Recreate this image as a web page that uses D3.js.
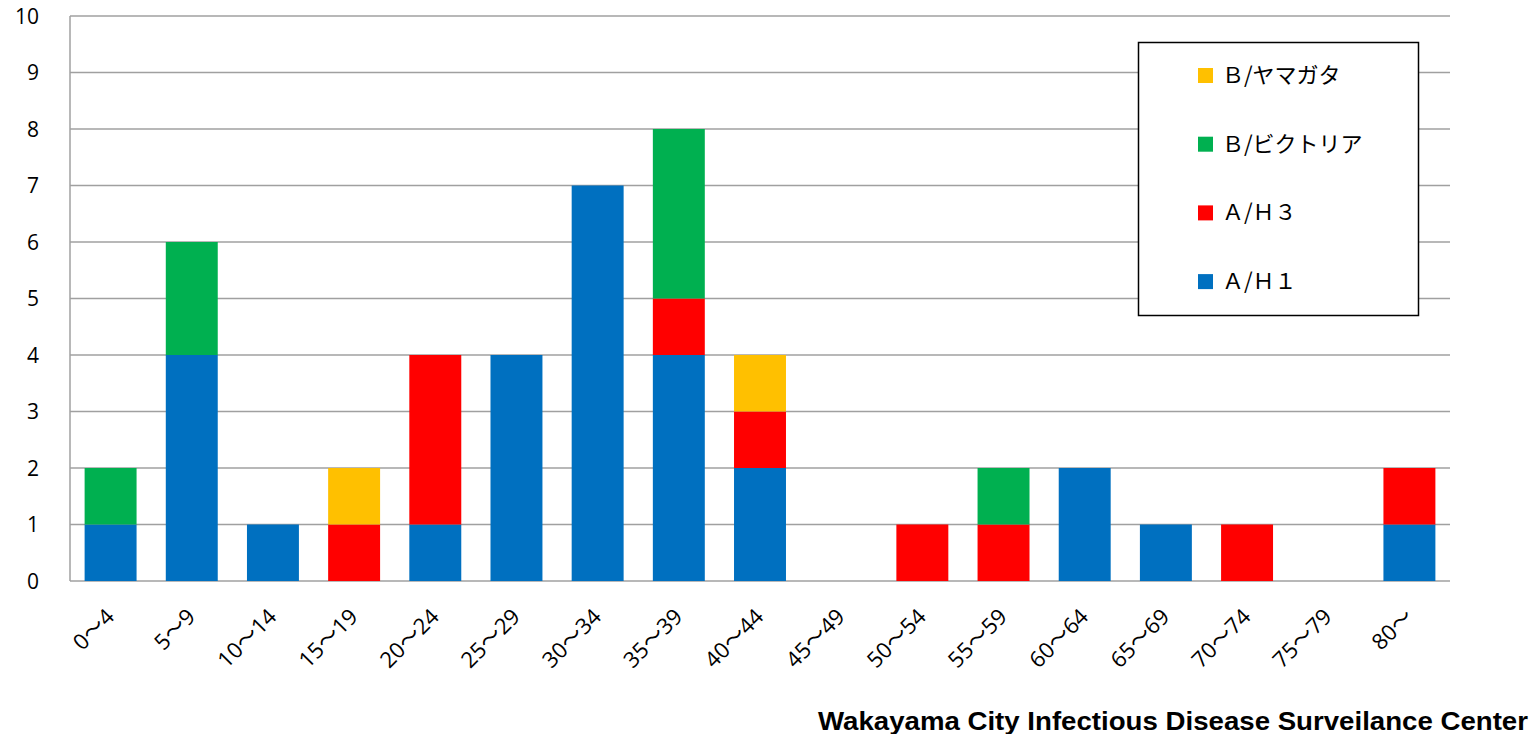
<!DOCTYPE html>
<html lang="ja">
<head>
<meta charset="utf-8" />
<title>Influenza by age group</title>
<script src="https://d3js.org/d3.v7.min.js"></script>
<style>
  body { margin: 0; background: #fff; }
</style>
</head>
<body>
<script>
const ageGroups = ["0〜4", "5〜9", "10〜14", "15〜19", "20〜24", "25〜29", "30〜34", "35〜39", "40〜44",
  "45〜49", "50〜54", "55〜59", "60〜64", "65〜69", "70〜74", "75〜79", "80〜"];
const seriesNames = ["A/H1", "A/H3", "B/Victoria", "B/Yamagata"];
const seriesLabels = ["Ａ/Ｈ１", "Ａ/Ｈ３", "Ｂ/ビクトリア", "Ｂ/ヤマガタ"];
const seriesColors = ["#0070C0", "#FF0000", "#00B050", "#FFC000"];
const ah1 = [1, 4, 1, 0, 1, 4, 7, 4, 2, 0, 0, 0, 2, 1, 0, 0, 1];
const ah3 = [0, 0, 0, 1, 3, 0, 0, 1, 1, 0, 1, 1, 0, 0, 1, 0, 1];
const bVic = [1, 2, 0, 0, 0, 0, 0, 3, 0, 0, 0, 1, 0, 0, 0, 0, 0];
const bYam = [0, 0, 0, 1, 0, 0, 0, 0, 1, 0, 0, 0, 0, 0, 0, 0, 0];
const yTicks = [0, 1, 2, 3, 4, 5, 6, 7, 8, 9, 10];

const width = 1532, height = 734;
const margin = {top: 16, right: 82, bottom: 153, left: 70};

const rows = ageGroups.map((g, i) => ({group: g, "A/H1": ah1[i], "A/H3": ah3[i], "B/Victoria": bVic[i], "B/Yamagata": bYam[i]}));
const stacked = d3.stack().keys(seriesNames)(rows);

const x = d3.scaleBand()
    .domain(ageGroups)
    .range([margin.left, width - margin.right])
    .paddingInner(0.36)
    .paddingOuter(0.18);

const y = d3.scaleLinear()
    .domain([0, 10])
    .range([height - margin.bottom, margin.top]);

const svg = d3.select("body").append("svg")
    .attr("width", width)
    .attr("height", height)
    .attr("font-family", "'Liberation Sans', Arial, sans-serif");

const labelFont = "'Open Sans', sans-serif";

// grid
svg.append("g")
    .attr("stroke", "#a0a0a0")
    .attr("stroke-width", 1.5)
  .selectAll("line")
  .data(yTicks)
  .join("line")
    .attr("x1", margin.left)
    .attr("x2", width - margin.right)
    .attr("y1", d => y(d))
    .attr("y2", d => y(d));

svg.append("line")
    .attr("x1", margin.left).attr("x2", margin.left)
    .attr("y1", y(10)).attr("y2", y(0))
    .attr("stroke", "#a0a0a0")
    .attr("stroke-width", 1.5);

// y labels
svg.append("g")
    .attr("font-size", 21)
    .attr("font-family", labelFont)
  .selectAll("text")
  .data(yTicks)
  .join("text")
    .attr("x", 39)
    .attr("y", d => y(d))
    .attr("dy", "0.36em")
    .attr("text-anchor", "end")
    .text(d => d);

// bars
svg.append("g")
  .selectAll("g")
  .data(stacked)
  .join("g")
    .attr("fill", (d, i) => seriesColors[i])
  .selectAll("rect")
  .data(d => d.filter(v => v[1] > v[0]))
  .join("rect")
    .attr("x", d => x(d.data.group))
    .attr("width", x.bandwidth())
    .attr("y", d => y(d[1]))
    .attr("height", d => y(d[0]) - y(d[1]));

// x labels (wave dash drawn from the CJK font, as full width)
const xl = svg.append("g")
    .attr("font-size", 22)
    .attr("font-family", labelFont)
  .selectAll("text")
  .data(ageGroups)
  .join("text")
    .attr("transform", d => `translate(${x(d) + x.bandwidth() / 2 + 5},${y(0) + 37}) rotate(-45)`)
    .attr("text-anchor", "end");
xl.each(function(d) {
  const parts = d.split("〜");
  const t = d3.select(this);
  t.append("tspan").text(parts[0]);
  t.append("tspan").attr("font-family", "'Noto Sans CJK JP', sans-serif").text("〜");
  if (parts[1]) t.append("tspan").text(parts[1]);
});

// legend
const legend = svg.append("g");
legend.append("rect")
    .attr("x", 1138.5).attr("y", 42.5)
    .attr("width", 280).attr("height", 273)
    .attr("fill", "#fff")
    .attr("stroke", "#000")
    .attr("stroke-width", 1.5);

const legendOrder = [3, 2, 1, 0];
const item = legend.selectAll("g.item")
  .data(legendOrder)
  .join("g")
    .attr("class", "item")
    .attr("transform", (d, i) => `translate(1198,${75 + i * 68.7})`);
item.append("rect")
    .attr("x", 0).attr("y", -7)
    .attr("width", 15).attr("height", 15)
    .attr("fill", d => seriesColors[d]);
item.append("text")
    .attr("x", 24)
    .attr("dy", "0.36em")
    .attr("font-size", 22)
    .attr("font-family", "'Noto Sans CJK JP', sans-serif")
    .text(d => seriesLabels[d]);

// credit
svg.append("text")
    .attr("x", 818)
    .attr("y", 730)
    .attr("font-size", 25)
    .attr("font-weight", 900)
    .attr("font-family", "'Liberation Sans', Arial, sans-serif")
    .attr("textLength", 710)
    .attr("lengthAdjust", "spacingAndGlyphs")
    .text("Wakayama City Infectious Disease Surveilance Center");
</script>
</body>
</html>
